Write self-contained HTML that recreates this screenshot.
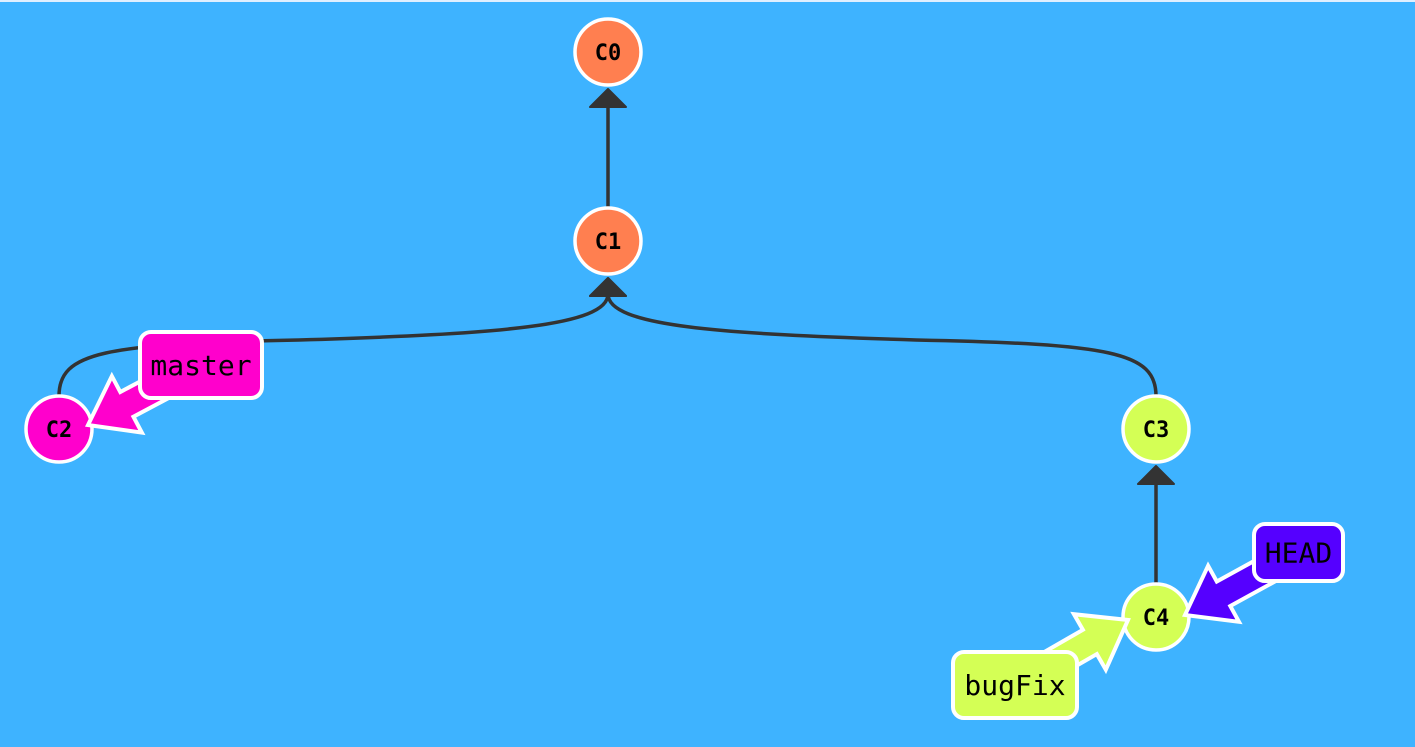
<!DOCTYPE html>
<html><head><meta charset="utf-8"><style>
html,body{margin:0;padding:0;width:1415px;height:747px;overflow:hidden;background:#3eb3ff;}
svg{display:block}
</style></head><body>
<svg id="tree" width="1415" height="747" xmlns="http://www.w3.org/2000/svg">
<rect x="0" y="0" width="1415" height="2" fill="#dfefff"/>
</svg>
<script>
const commitIds=["C0","C1","C2","C3","C4"];
const commitX=[608,608,59,1156,1156];
const commitY=[52,241,429,429,617];
const commitColors=["#ff7f50","#ff7f50","#ff00cc","#d4ff55","#d4ff55"];
const parentIdx=[-1,0,1,1,3];
const branchNames=["master","bugFix","HEAD"];
const branchTargets=[2,4,4];
const branchColors=["#ff00cc","#d4ff55","#5500ff"];
const branchBoxes=[[140,332,122,66],[953,652,124,66],[1254,524,89,57]];
const branchTips=[[88,425],[1128,620],[1185,615]];

const NS="http://www.w3.org/2000/svg";
const svg=document.getElementById('tree');
function mk(t,a){const e=document.createElementNS(NS,t);for(const k in a)e.setAttribute(k,a[k]);svg.appendChild(e);return e;}
const R=33;
for(let i=0;i<commitIds.length;i++){
  const p=parentIdx[i]; if(p<0)continue;
  const x1=commitX[i],y1=commitY[i]-R,x2=commitX[p],y2=commitY[p]+R+20;
  let d;
  if(x1===x2) d=`M${x1},${y1} L${x2},${y2}`;
  else{
    const s=Math.sign(x2-x1);
    const mx=x1+s*240;
    d=`M${x1},${y1} C${x1},${y1-44} ${x1+s*45},${y1-52} ${mx},${y1-56} C${x2-s*110},${y1-62} ${x2},${y1-70} ${x2},${y2}`;
  }
  const e=mk('path',{d:d,stroke:'#333',"stroke-width":3.5,fill:'none'});
  
  
  const tx=x2,ty=commitY[p]+R+4;
  const h=mk('polygon',{points:`${tx},${ty} ${tx-18},${ty+18} ${tx+18},${ty+18}`,fill:'#333',stroke:'#333',"stroke-width":2,"stroke-linejoin":"round"});
  
  
}
for(let i=0;i<commitIds.length;i++){
  const c=mk('circle',{cx:commitX[i],cy:commitY[i],r:R,fill:commitColors[i],stroke:'#fff',"stroke-width":3.5});
  
  
  const t=mk('text',{x:commitX[i],y:commitY[i]+8,"text-anchor":"middle","font-family":"DejaVu Sans Mono, monospace","font-weight":"bold","font-size":22,fill:'#000'});
  t.textContent=commitIds[i];
  
  
}
for(let i=0;i<branchNames.length;i++){
  const [bx,by,bw,bh]=branchBoxes[i];
  const cx=bx+bw/2,cy=by+bh/2;
  const [tx,ty]=branchTips[i];
  const dx=tx-cx,dy=ty-cy,L=Math.hypot(dx,dy),ux=dx/L,uy=dy/L,nx=-uy,ny=ux;
  const hl=44,sw=14,hw=32;
  const bxp=tx-ux*hl,byp=ty-uy*hl;
  const pts=[[cx+nx*sw,cy+ny*sw],[bxp+nx*sw,byp+ny*sw],[bxp+nx*hw,byp+ny*hw],[tx,ty],[bxp-nx*hw,byp-ny*hw],[bxp-nx*sw,byp-ny*sw],[cx-nx*sw,cy-ny*sw]];
  const a=mk('polygon',{points:pts.map(p=>p.join(',')).join(' '),fill:branchColors[i],stroke:'#fff',"stroke-width":4,"stroke-linejoin":"miter"});
  
  
  const r=mk('rect',{x:bx,y:by,width:bw,height:bh,rx:11,fill:branchColors[i],stroke:'#fff',"stroke-width":4});
  
  
  const t=mk('text',{x:cx,y:cy+10,"text-anchor":"middle","font-family":"DejaVu Sans Mono, monospace","font-size":28,fill:'#000'});
  t.textContent=branchNames[i];
  
  
}
</script>
</body></html>
